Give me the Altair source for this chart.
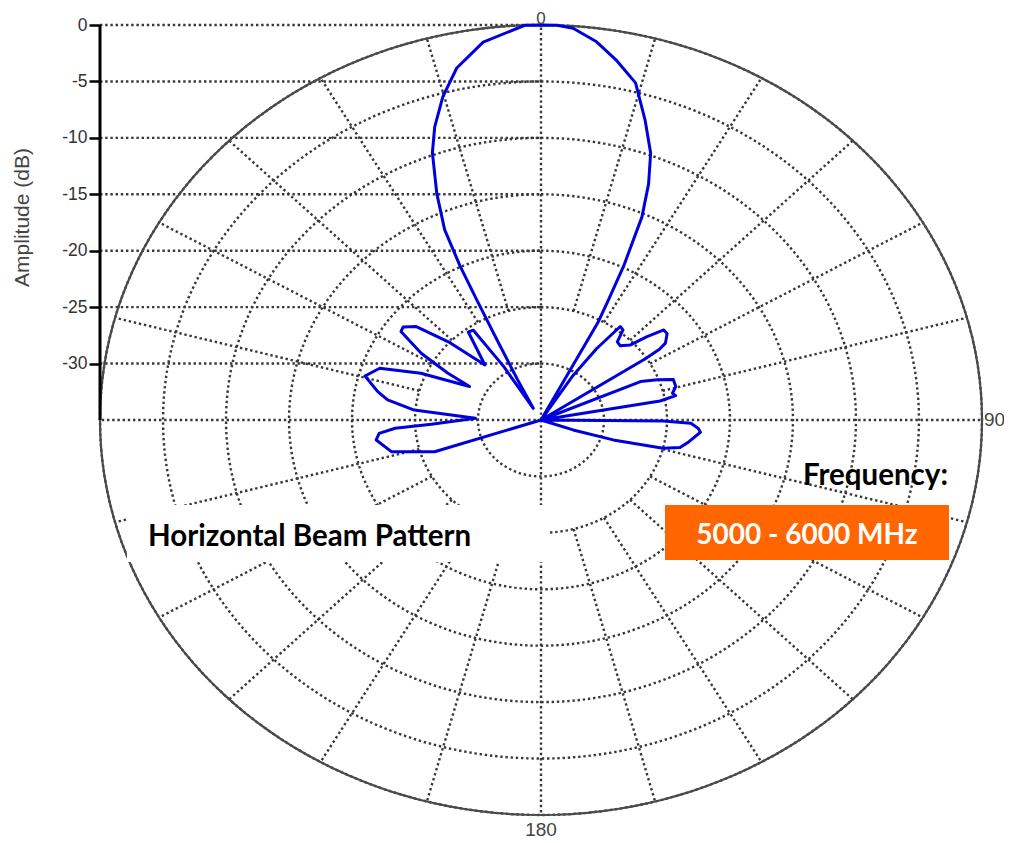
import altair as alt
import numpy as np
import pandas as pd

# ---- beam pattern (angle clockwise from top, amplitude dB)
angle_deg = [
    -112.0, -108.4, -103.3, -97.7, -95.3, -93.6, -92.5, -88.4,
    -85.0, -81.7, -79.0, -74.4, -70.3, -66.5, -62.4,
    -60.7, -58.1, -54.8, -53.0, -50.1, -46.7, -42.4,
    -36.5, -34.0, -32.0, -30.6,
    -27.5, -26.2, -25.6, -25.2, -24.4, -22.4, -20.0, -18.0, -15.2, -12.1, -7.8, -2.1, 0.0,
    2.1, 4.2, 7.5, 10.7, 14.1, 17.3, 20.2, 22.2, 24.0, 25.7, 26.7, 27.6, 30.0,
    32.8, 34.9, 37.2, 39.2, 41.2, 43.6, 46.8, 48.7, 50.7, 52.6, 55.4, 56.3, 56.8, 61.0,
    66.7, 68.9, 71.1, 74.5, 77.2, 78.6, 79.9, 85.0,
    90.5, 91.4, 93.4, 94.9, 99.3, 102.5, 104.5, 107.1, 109.0, 112.0,
]
gain_db = [
    -35.0, -26.1, -22.8, -21.8, -22.1, -23.4, -26.3, -29.8,
    -24.9, -22.7, -21.8, -20.5, -21.4, -24.6, -28.6,
    -26.5, -23.8, -21.4, -21.3, -22.1, -24.9, -28.4,
    -25.3, -25.4, -29.4, -33.8,
    -31.0, -27.1, -23.2, -19.9, -16.5, -13.3, -9.8, -7.7, -5.3, -3.1, -1.2, 0.0, 0.0,
    0.0, -0.2, -1.2, -2.6, -4.2, -7.2, -9.8, -12.4, -15.3, -19.9, -23.1, -25.2, -35.0,
    -30.3, -27.3, -24.6, -24.7, -25.8, -25.9, -25.3, -23.8, -22.4, -22.4, -23.0, -23.7, -25.1, -35.0,
    -26.4, -25.1, -23.9, -23.9, -24.3, -24.1, -25.4, -35.0,
    -25.3, -23.1, -22.5, -22.3, -23.1, -23.7, -25.0, -29.0, -32.3, -35.0,
]

ring_db = [-30, -25, -20, -15, -10, -5, 0]
spoke_deg = list(range(0, 360, 15))
amp_ticks = [0, -5, -10, -15, -20, -25, -30]
dir_text = ["0", "90", "180"]
y_title = "Amplitude (dB)"
title_text = "Horizontal Beam Pattern"
freq_label = "Frequency:"
freq_value = "5000 - 6000 MHz"

W, H = 882, 790
GRID = "#383838"
DOT = [2.4, 2.8]
GW = 2.4

xs = alt.Scale(domain=[-35, 35], nice=False, zero=False)
ys = alt.Scale(domain=[-70, 0], nice=False, zero=False)
yax = alt.Axis(
    values=amp_ticks, labelExpr="'' + datum.value", domain=False, grid=False,
    ticks=True, tickColor="black", tickWidth=2.5, tickSize=11,
    labelFont="Liberation Sans", labelFontSize=17.5, labelColor="#333333", labelPadding=2,
    title=y_title, titleFont="Liberation Sans", titleFontSize=21, titleFontWeight="normal",
    titleColor="#444444", titleAngle=270, titleX=-78, titleY=192,
    titleAlign="center", titleBaseline="middle",
)


def X(f="x"):
    return alt.X(f"{f}:Q", scale=xs, axis=None)


def Y(f="y"):
    return alt.Y(f"{f}:Q", scale=ys, axis=yax)


# ---- grid: rings
theta = np.arange(0, 361, 2)
rings = pd.DataFrame(
    [(r, i, t) for r in ring_db for i, t in enumerate(theta)],
    columns=["ring", "seq", "ang"],
)
ring_chart = (
    alt.Chart(rings)
    .transform_calculate(
        x="(datum.ring + 35) * sin(datum.ang * PI / 180)",
        y="(datum.ring + 35) * cos(datum.ang * PI / 180) - 35",
    )
    .mark_line(color=GRID, strokeWidth=GW, strokeDash=DOT)
    .encode(x=X(), y=Y(), detail="ring:N", order="seq:Q")
)

outline = (
    alt.Chart(rings[rings["ring"] == 0])
    .transform_calculate(
        x="(datum.ring + 35) * sin(datum.ang * PI / 180)",
        y="(datum.ring + 35) * cos(datum.ang * PI / 180) - 35",
    )
    .mark_line(color="#4a4a4a", strokeWidth=2.2)
    .encode(x=X(), y=Y(), order="seq:Q")
)

# ---- grid: spokes
spokes = pd.DataFrame({"ang": spoke_deg})
spokes["r1"] = [-35 if a % 90 == 0 else -25 for a in spoke_deg]
spoke_chart = (
    alt.Chart(spokes)
    .transform_calculate(
        x="(datum.r1 + 35) * sin(datum.ang * PI / 180)",
        y="(datum.r1 + 35) * cos(datum.ang * PI / 180) - 35",
        x2="35 * sin(datum.ang * PI / 180)",
        y2="35 * cos(datum.ang * PI / 180) - 35",
    )
    .mark_rule(color=GRID, strokeWidth=GW, strokeDash=DOT)
    .encode(x=X(), y=Y(), x2="x2:Q", y2="y2:Q")
)

# ---- amplitude gridlines from axis to centre
hl = pd.DataFrame({"y": amp_ticks, "x": -35, "x2": 0})
hline_chart = (
    alt.Chart(hl)
    .mark_rule(color=GRID, strokeWidth=GW, strokeDash=DOT)
    .encode(x=X(), y=Y(), x2="x2:Q")
)

axis_line = (
    alt.Chart(pd.DataFrame({"x": [-35], "y": [-35], "y2": [0]}))
    .mark_rule(color="black", strokeWidth=3)
    .encode(x=X(), y=Y(), y2="y2:Q")
)

# ---- pattern
pat = pd.DataFrame({"seq": range(len(angle_deg)), "ang": angle_deg, "db": gain_db})
pattern = (
    alt.Chart(pat)
    .transform_calculate(rr="max(datum.db + 35, 0)")
    .transform_calculate(
        x="datum.rr * sin(datum.ang * PI / 180)",
        y="datum.rr * cos(datum.ang * PI / 180) - 35",
    )
    .mark_line(color="#0000dd", strokeWidth=3, strokeJoin="round")
    .encode(x=X(), y=Y(), order="seq:Q")
)

# ---- direction labels
lab_style = dict(font="Liberation Sans", color="#444444")
lab0 = (
    alt.Chart(pd.DataFrame({"t": [dir_text[0]], "x": [0], "y": [0]}))
    .mark_text(align="center", baseline="alphabetic", dy=-1, fontSize=17, **lab_style)
    .encode(x=X(), y=Y(), text="t:N")
)
lab90 = (
    alt.Chart(pd.DataFrame({"t": [dir_text[1]], "x": [35], "y": [-35]}))
    .mark_text(align="left", baseline="middle", dx=2, fontSize=19, **lab_style)
    .encode(x=X(), y=Y(), text="t:N")
)
lab180 = (
    alt.Chart(pd.DataFrame({"t": [dir_text[2]], "x": [0], "y": [-70]}))
    .mark_text(align="center", baseline="top", dy=6, fontSize=19, **lab_style)
    .encode(x=X(), y=Y(), text="t:N")
)

# ---- annotations
one = pd.DataFrame({"t": [title_text], "f": [freq_label], "v": [freq_value]})
white_box = alt.Chart(one).mark_rect(color="white").encode(
    x=alt.value(27), x2=alt.value(450), y=alt.value(480), y2=alt.value(537)
)
title_mark = alt.Chart(one).mark_text(
    font="Lato", fontWeight="bold", fontSize=29.5, align="left", baseline="alphabetic", color="black"
).encode(text="t:N", x=alt.value(48), y=alt.value(521))
freq_mark = alt.Chart(one).mark_text(
    font="Lato", fontWeight="bold", fontSize=29.5, align="right", baseline="alphabetic", color="black"
).encode(text="f:N", x=alt.value(848), y=alt.value(460))
orange_box = alt.Chart(one).mark_rect(color="#ff6600").encode(
    x=alt.value(565), x2=alt.value(849), y=alt.value(480), y2=alt.value(535)
)
value_mark = alt.Chart(one).mark_text(
    font="Lato", fontWeight="bold", fontSize=28, align="center", baseline="alphabetic", color="white"
).encode(text="v:N", x=alt.value(707), y=alt.value(519))

chart = (
    alt.layer(
        hline_chart, ring_chart, spoke_chart, outline, axis_line, pattern,
        white_box, title_mark, freq_mark, orange_box, value_mark,
        lab0, lab90, lab180,
    )
    .properties(
        width=W, height=H,
        padding={"left": 92, "top": 17, "right": 22, "bottom": 24},
        autosize=alt.AutoSizeParams(type="none"),
        background="white",
    )
    .configure_view(stroke=None)
)

chart.save("out.html", embed_options={"renderer": "svg", "actions": False})
